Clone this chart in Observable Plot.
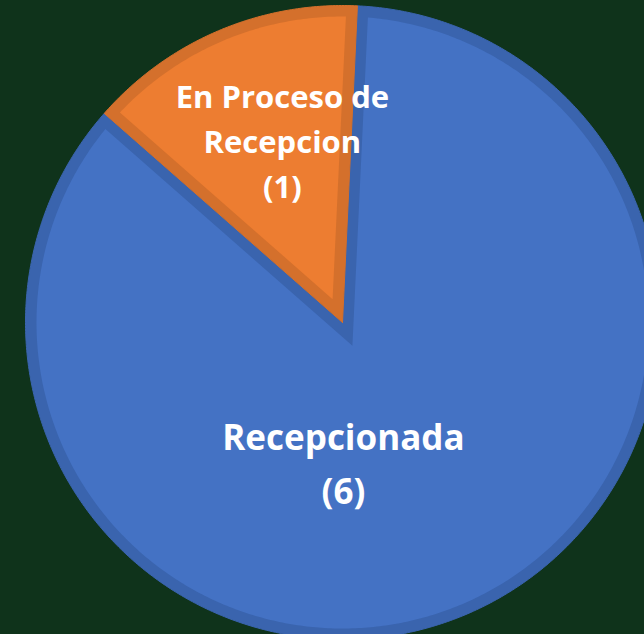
<!DOCTYPE html>
<html>
<head>
<meta charset="utf-8">
<script src="https://cdn.jsdelivr.net/npm/d3@7"></script>
<script src="https://cdn.jsdelivr.net/npm/@observablehq/plot@0.6"></script>
<style>
  html, body { margin: 0; padding: 0; background: #0f331b; }
  #chart svg { display: block; }
</style>
</head>
<body>
<div id="chart"></div>
<script>
// ---- data ----
const categories = ["Recepcionada", "En Proceso de Recepcion"];
const values = [6, 1];
const labels = ["Recepcionada\n(6)", "En Proceso de\nRecepcion\n(1)"];
const fillColors = ["#4472c4", "#ed7d31"];
const borderColors = ["#3a64ae", "#d4702c"];

// ---- layout ----
const W = 644, H = 634;
const cx = 342, cy = 322;      // pie centre in pixels
const R = 317;                 // radius
const B = 11;                  // inner border width
const startDeg = 2.7;
const labelLayout = [
  {deg: 179.6, r: 137, size: 35, lh: 1.54},
  {deg: -18.1, r: 193.5, size: 31, lh: 1.45}
];

const toRad = d => d * Math.PI / 180;
const pie = d3.pie().sort(null).startAngle(toRad(startDeg)).endAngle(toRad(startDeg) + 2 * Math.PI);
const arcs = pie(values);

function polar(a, r) { return [r * Math.sin(a), r * Math.cos(a)]; }

function wedge(a0, a1, r, inset) {
  const pts = [];
  const theta = a1 - a0;
  if (inset === 0) {
    pts.push([0, 0]);
    const n = Math.ceil(theta / 0.01);
    for (let i = 0; i <= n; i++) pts.push(polar(a0 + theta * i / n, r));
  } else {
    const ri = r - inset;
    const d = Math.asin(inset / ri);
    const mid = (a0 + a1) / 2;
    pts.push(polar(mid, inset / Math.sin(theta / 2)));
    const b0 = a0 + d, b1 = a1 - d;
    const n = Math.ceil((b1 - b0) / 0.01);
    for (let i = 0; i <= n; i++) pts.push(polar(b0 + (b1 - b0) * i / n, ri));
  }
  pts.push(pts[0]);
  return pts.map(([x, y]) => ({x, y}));
}

const marks = [];
arcs.forEach((a, i) => {
  marks.push(Plot.line(wedge(a.startAngle, a.endAngle, R, 0), {x: "x", y: "y", fill: borderColors[i], stroke: borderColors[i], strokeWidth: 1, curve: "linear"}));
});
arcs.forEach((a, i) => {
  marks.push(Plot.line(wedge(a.startAngle, a.endAngle, R, B), {x: "x", y: "y", fill: fillColors[i], stroke: "none", curve: "linear"}));
});
arcs.forEach((a, i) => {
  const L = labelLayout[i];
  const [x, y] = polar(toRad(L.deg), L.r);
  marks.push(Plot.text([{x, y, t: labels[i]}], {
    x: "x", y: "y", text: "t", fill: "white", fontSize: L.size, fontWeight: "bold",
    lineHeight: L.lh, fontFamily: "Open Sans", textAnchor: "middle", frameAnchor: "middle"
  }));
});

const chart = Plot.plot({
  width: W, height: H,
  margin: 0,
  x: {domain: [-cx, W - cx], axis: null},
  y: {domain: [-(H - cy), cy], axis: null},
  style: {background: "#0f331b", fontFamily: "Open Sans"},
  marks
});
document.getElementById("chart").appendChild(chart);
</script>
</body>
</html>
